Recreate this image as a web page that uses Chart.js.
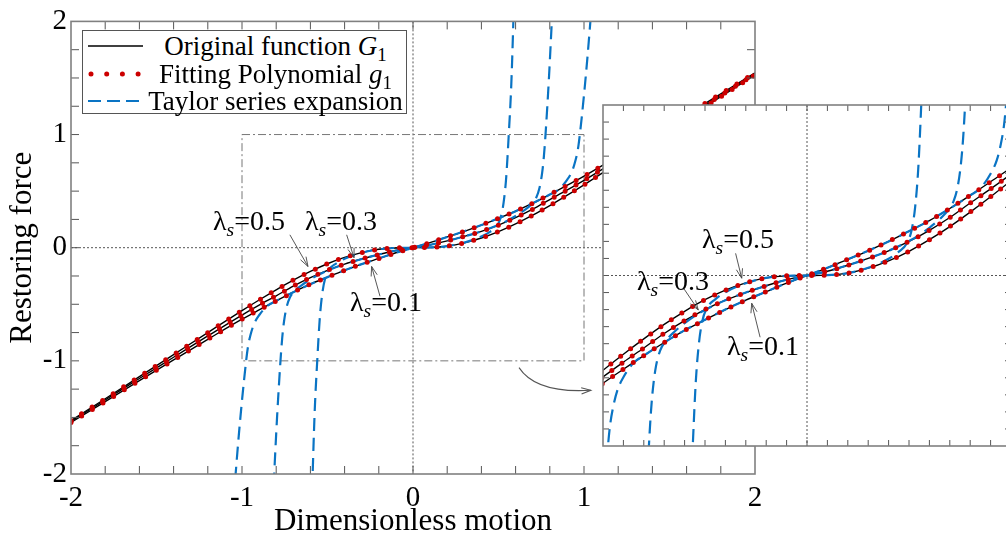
<!DOCTYPE html>
<html>
<head>
<meta charset="utf-8">
<script src="https://cdn.jsdelivr.net/npm/chart.js@4.4.0/dist/chart.umd.min.js"></script>
<style>
html,body{margin:0;padding:0;background:#fff;overflow:hidden;width:1006px;height:540px;}
#wrap{position:relative;width:1006px;height:540px;font-family:'Liberation Serif','Times New Roman',serif;color:#000;}
#main{position:absolute;left:0;top:0;}
#inset{position:absolute;left:601px;top:103px;}
.lbl{position:absolute;font-size:28px;line-height:1;white-space:nowrap;font-family:'Liberation Serif',serif;}
.lbl sub{font-style:italic;font-size:0.7em;vertical-align:-0.3em;line-height:0;}
#legend{position:absolute;left:82px;top:30px;width:323px;height:82px;border:1px solid #555;background:#fff;}
#legend .row{position:absolute;left:0;width:100%;height:28px;display:flex;align-items:center;}
#legend svg{flex:0 0 62px;}
#legend span{flex:1;text-align:center;font-size:27px;line-height:28px;white-space:nowrap;}
#legend sub{font-size:0.7em;vertical-align:-0.3em;line-height:0;}
</style>
</head>
<body>
<div id="wrap">
  <canvas id="main" width="1006" height="540"></canvas>
  <canvas id="inset" width="412" height="345"></canvas>

  <div id="legend">
    <div class="row" style="top:1px">
      <svg width="62" height="28"><line x1="5" y1="14" x2="60" y2="14" stroke="#000" stroke-width="1.5"/></svg>
      <span>Original function <i>G</i><sub>1</sub></span>
    </div>
    <div class="row" style="top:29px">
      <svg width="62" height="28"><line x1="8" y1="14" x2="60" y2="14" stroke="#cc0000" stroke-width="5" stroke-linecap="round" stroke-dasharray="0 15.7"/></svg>
      <span>Fitting Polynomial <i>g</i><sub>1</sub></span>
    </div>
    <div class="row" style="top:56px">
      <svg width="62" height="28"><line x1="5" y1="14" x2="60" y2="14" stroke="#0a74c4" stroke-width="2" stroke-dasharray="13 6"/></svg>
      <span>Taylor series expansion</span>
    </div>
  </div>

  <div class="lbl" style="left:213px;top:207px">λ<sub>s</sub>=0.5</div>
  <div class="lbl" style="left:305px;top:207px">λ<sub>s</sub>=0.3</div>
  <div class="lbl" style="left:350px;top:288px">λ<sub>s</sub>=0.1</div>

  <div class="lbl" style="left:702px;top:225px">λ<sub>s</sub>=0.5</div>
  <div class="lbl" style="left:637px;top:267px">λ<sub>s</sub>=0.3</div>
  <div class="lbl" style="left:727px;top:332px">λ<sub>s</sub>=0.1</div>
</div>

<script>
// ---------- data ----------
const xs  = [-2,-1.8,-1.6,-1.4,-1.2,-1,-0.9,-0.8,-0.7,-0.6,-0.5,-0.4,-0.3,-0.2,-0.1,0,0.1,0.2,0.3,0.4,0.5,0.6,0.7,0.8,0.9,1,1.2,1.4,1.6,1.8,2];
// original function G1, lambda_s = 0.1 / 0.3 / 0.5
const g01 = [-1.545,-1.36,-1.175,-0.992,-0.81,-0.632,-0.55,-0.47,-0.393,-0.322,-0.26,-0.2,-0.145,-0.095,-0.045,0,0.045,0.095,0.145,0.2,0.26,0.322,0.393,0.47,0.55,0.632,0.81,0.992,1.175,1.36,1.545];
const g03 = [-1.535,-1.346,-1.156,-0.968,-0.78,-0.595,-0.508,-0.425,-0.34,-0.265,-0.2,-0.145,-0.1,-0.06,-0.025,0,0.025,0.06,0.1,0.145,0.2,0.265,0.34,0.425,0.508,0.595,0.78,0.968,1.156,1.346,1.535];
const g05 = [-1.527,-1.335,-1.14,-0.945,-0.75,-0.556,-0.462,-0.372,-0.287,-0.21,-0.142,-0.086,-0.043,-0.014,-0.002,0,0.002,0.014,0.043,0.086,0.142,0.21,0.287,0.372,0.462,0.556,0.75,0.945,1.14,1.335,1.527];

// Taylor series expansions
const t05x = [-0.59,-0.575,-0.56,-0.545,-0.53,-0.513,-0.49,-0.45,-0.4,-0.3,-0.2,-0.1,0,0.1,0.2,0.3,0.4,0.45,0.49,0.513,0.53,0.545,0.56,0.575,0.59];
const t05  = [-2.15,-1.45,-1.0,-0.62,-0.4,-0.267,-0.19,-0.14,-0.098,-0.045,-0.014,-0.002,0,0.002,0.014,0.045,0.098,0.14,0.19,0.267,0.4,0.62,1.0,1.45,2.15];
const t03x = [-0.815,-0.795,-0.775,-0.765,-0.755,-0.74,-0.72,-0.693,-0.65,-0.6,-0.55,-0.5,-0.4,-0.3,-0.2,-0.1,0,0.1,0.2,0.3,0.4,0.5,0.55,0.6,0.65,0.693,0.72,0.74,0.755,0.765,0.775,0.795,0.815];
const t03  = [-2.1,-1.5,-1.0,-0.8,-0.66,-0.53,-0.44,-0.385,-0.33,-0.28,-0.237,-0.202,-0.145,-0.1,-0.06,-0.025,0,0.025,0.06,0.1,0.145,0.202,0.237,0.28,0.33,0.385,0.44,0.53,0.66,0.8,1.0,1.5,2.1];
const t01x = [-1.04,-1.02,-1,-0.975,-0.965,-0.95,-0.93,-0.9,-0.85,-0.8,-0.7,-0.6,-0.5,-0.4,-0.3,-0.2,-0.1,0,0.1,0.2,0.3,0.4,0.5,0.6,0.7,0.8,0.85,0.9,0.93,0.95,0.965,0.975,1,1.02,1.04];
const t01  = [-2.05,-1.68,-1.35,-0.99,-0.875,-0.77,-0.675,-0.597,-0.512,-0.47,-0.393,-0.322,-0.26,-0.2,-0.145,-0.095,-0.045,0,0.045,0.095,0.145,0.2,0.26,0.322,0.393,0.47,0.512,0.597,0.675,0.77,0.875,0.99,1.35,1.68,2.05];

const RED='#cc0000', BLUE='#0a74c4', FONT="'Liberation Serif', serif";

const pts=(x,y)=>x.map((v,i)=>({x:v,y:y[i]}));

function makeDatasets(){
  const base={pointRadius:0,cubicInterpolationMode:'monotone',fill:false};
  const orig=[g01,g03,g05].map(g=>({...base,data:pts(xs,g),borderColor:'#000',borderWidth:1.4,order:2}));
  const dots=[g01,g03,g05].map(g=>({...base,data:pts(xs,g),borderColor:RED,borderWidth:5,borderDash:[0,12.5],borderCapStyle:'round',order:0}));
  const tay=[[t01x,t01],[t03x,t03],[t05x,t05]].map(([x,y])=>({...base,data:pts(x,y),borderColor:BLUE,borderWidth:2.2,borderDash:[13,7],order:1}));
  return [...orig,...tay,...dots];
}

function arrow(ctx,x1,y1,x2,y2){
  ctx.beginPath();ctx.moveTo(x1,y1);ctx.lineTo(x2,y2);ctx.stroke();
  head(ctx,Math.atan2(y2-y1,x2-x1),x2,y2);
}
function head(ctx,a,x,y){
  const h=10,w=0.32;
  ctx.beginPath();
  ctx.moveTo(x-h*Math.cos(a-w),y-h*Math.sin(a-w));
  ctx.lineTo(x,y);
  ctx.lineTo(x-h*Math.cos(a+w),y-h*Math.sin(a+w));
  ctx.stroke();
}

// frame, inward ticks, reference lines and annotation arrows
const framePlugin={
  id:'frame',
  beforeDatasetsDraw(chart,args,o){
    const {ctx,chartArea:a,scales:{x,y}}=chart;
    ctx.save();
    if(o.fill){ctx.fillStyle='#fff';ctx.fillRect(a.left,a.top,a.right-a.left,a.bottom-a.top);}
    const x0=x.getPixelForValue(0),y0=y.getPixelForValue(0);
    ctx.strokeStyle='#555';ctx.lineWidth=1;ctx.setLineDash([2,2]);
    ctx.beginPath();
    ctx.moveTo(x0,a.top);ctx.lineTo(x0,a.bottom);
    ctx.moveTo(a.left,y0);ctx.lineTo(a.right,y0);
    ctx.stroke();
    if(o.box){
      ctx.strokeStyle='#777';ctx.setLineDash([8,3,2,3]);
      const l=x.getPixelForValue(-1),r=x.getPixelForValue(1),t=y.getPixelForValue(1),b=y.getPixelForValue(-1);
      ctx.strokeRect(l,t,r-l,b-t);
    }
    ctx.restore();
  },
  afterDatasetsDraw(chart,args,o){
    const {ctx,chartArea:a,scales:{x,y}}=chart;
    ctx.save();
    ctx.strokeStyle='#555';ctx.lineWidth=1;
    ctx.beginPath();
    const nx=Math.round((x.max-x.min)/o.xStep), ny=Math.round((y.max-y.min)/o.yStep);
    for(let i=1;i<nx;i++){
      const p=x.getPixelForValue(x.min+i*o.xStep);
      ctx.moveTo(p,a.bottom);ctx.lineTo(p,a.bottom-o.tick);
      ctx.moveTo(p,a.top);ctx.lineTo(p,a.top+o.tick);
    }
    for(let i=1;i<ny;i++){
      const p=y.getPixelForValue(y.min+i*o.yStep);
      ctx.moveTo(a.left,p);ctx.lineTo(a.left+o.tick,p);
      ctx.moveTo(a.right,p);ctx.lineTo(a.right-o.tick,p);
    }
    ctx.stroke();
    ctx.strokeStyle='#808080';ctx.lineWidth=1.6;
    ctx.strokeRect(a.left,a.top,a.right-a.left,a.bottom-a.top);
    // label arrows
    ctx.strokeStyle='#444';ctx.lineWidth=0.9;
    (o.arrows||[]).forEach(v=>arrow(ctx,x.getPixelForValue(v[0]),y.getPixelForValue(v[1]),x.getPixelForValue(v[2]),y.getPixelForValue(v[3])));
    if(o.curve){
      const c=o.curve, P=i=>[x.getPixelForValue(c[i]),y.getPixelForValue(c[i+1])];
      const [sx,sy]=P(0),[cx,cy]=P(2),[ex,ey]=P(4);
      ctx.strokeStyle='#555';ctx.lineWidth=1.1;
      ctx.beginPath();ctx.moveTo(sx,sy);ctx.quadraticCurveTo(cx,cy,ex,ey);ctx.stroke();
      head(ctx,Math.atan2(ey-cy,ex-cx),ex,ey);
    }
    ctx.restore();
  }
};

// ---------- main chart ----------
new Chart(document.getElementById('main'),{
  type:'line',
  data:{datasets:makeDatasets()},
  plugins:[framePlugin],
  options:{
    responsive:false,animation:false,
    layout:{padding:{top:17,right:251,left:0,bottom:0}},
    plugins:{legend:{display:false},tooltip:{enabled:false},
      frame:{xStep:0.2,yStep:0.25,tick:8,box:true,
        arrows:[[-0.72,0.114,-0.614,-0.166],[-0.388,0.114,-0.345,-0.088],[-0.193,-0.429,-0.242,-0.166]],
        curve:[0.62,-1.06,0.72,-1.29,1.04,-1.26]}},
    scales:{
      x:{type:'linear',min:-2,max:2,
        grid:{display:false,drawTicks:false},border:{display:false},
        ticks:{stepSize:1,color:'#000',font:{family:FONT,size:29},padding:7,maxRotation:0},
        title:{display:true,text:'Dimensionless motion',color:'#000',font:{family:FONT,size:31},padding:0},
        afterFit:s=>{s.height=66;}},
      y:{type:'linear',min:-2,max:2,
        grid:{display:false,drawTicks:false},border:{display:false},
        ticks:{stepSize:1,color:'#000',font:{family:FONT,size:29},padding:4},
        title:{display:true,text:'Restoring force',color:'#000',font:{family:FONT,size:31},padding:{top:4,bottom:0}},
        afterFit:s=>{s.width=71;}}
    }
  }
});

// ---------- zoomed inset ----------
new Chart(document.getElementById('inset'),{
  type:'line',
  data:{datasets:makeDatasets()},
  plugins:[framePlugin],
  options:{
    responsive:false,animation:false,
    layout:{padding:2},
    plugins:{legend:{display:false},tooltip:{enabled:false},
      frame:{xStep:0.1,yStep:0.1,tick:6,fill:true,
        arrows:[[-0.35,0.13,-0.32,-0.016],[-0.606,-0.073,-0.533,-0.202],[-0.23,-0.362,-0.271,-0.163]]}},
    scales:{
      x:{type:'linear',min:-1,max:1,display:false},
      y:{type:'linear',min:-1,max:1,display:false}
    }
  }
});
</script>
</body>
</html>
